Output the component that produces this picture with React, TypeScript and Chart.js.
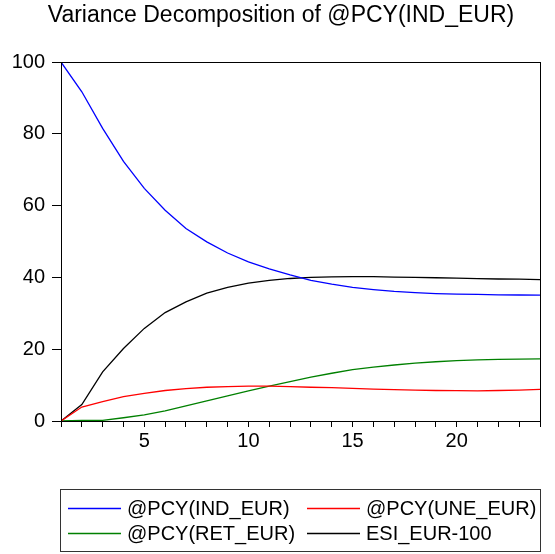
import React, { useEffect, useRef } from "react";
import { Chart, registerables } from "chart.js";

Chart.register(...registerables);

const periods = [1, 2, 3, 4, 5, 6, 7, 8, 9, 10, 11, 12, 13, 14, 15, 16, 17, 18, 19, 20, 21, 22, 23, 24];
const indEur = [100, 91.7, 81.5, 72.3, 64.8, 58.7, 53.6, 49.9, 46.8, 44.3, 42.4, 40.7, 39.2, 38.1, 37.2, 36.6, 36.1, 35.75, 35.5, 35.35, 35.25, 35.15, 35.1, 35.05];
const uneEur = [0, 3.9, 5.4, 6.8, 7.7, 8.5, 9.0, 9.4, 9.6, 9.7, 9.7, 9.6, 9.4, 9.3, 9.1, 8.9, 8.75, 8.6, 8.5, 8.45, 8.4, 8.5, 8.6, 8.8];
const retEur = [0, 0.2, 0.2, 0.9, 1.7, 2.8, 4.2, 5.6, 7.0, 8.4, 9.7, 11.0, 12.2, 13.3, 14.3, 15.0, 15.6, 16.1, 16.5, 16.8, 17.0, 17.15, 17.25, 17.3];
const esiEur = [0, 4.6, 13.7, 20.2, 25.8, 30.2, 33.2, 35.6, 37.2, 38.4, 39.2, 39.7, 40.0, 40.15, 40.2, 40.2, 40.1, 40.0, 39.9, 39.8, 39.65, 39.55, 39.5, 39.4];
const seriesLabels = ["@PCY(IND_EUR)", "@PCY(UNE_EUR)", "@PCY(RET_EUR)", "ESI_EUR-100"];
const seriesColors = ["#0000FF", "#FF0000", "#008000", "#000000"];
const yTicks = [0, 20, 40, 60, 80, 100];
const xLabelEvery = 5;
const titleText = "Variance Decomposition of @PCY(IND_EUR)";

const FONT = "'Liberation Sans', Arial, Helvetica, sans-serif";

const framePlugin = {
  id: "frame",
  afterDatasetsDraw(chart: any) {
    const { ctx, chartArea } = chart;
    ctx.save();
    ctx.strokeStyle = "#000";
    ctx.lineWidth = 1;
    ctx.strokeRect(chartArea.left + 0.5, chartArea.top + 0.5, chartArea.right - chartArea.left, chartArea.bottom - chartArea.top);
    ctx.restore();
  },
};

const titlePlugin = {
  id: "centeredTitle",
  afterDraw(chart: any) {
    const { ctx, chartArea } = chart;
    ctx.save();
    ctx.font = `23px ${FONT}`;
    ctx.fillStyle = "#000";
    ctx.textAlign = "center";
    ctx.textBaseline = "middle";
    ctx.fillText(titleText, (chartArea.left + chartArea.right) / 2 - 19.5, chartArea.top - 46);
    ctx.restore();
  },
};

const boxLegendPlugin = {
  id: "boxLegend",
  afterDraw(chart: any) {
    const { ctx, chartArea } = chart;
    const left = chartArea.left - 1;
    const right = chartArea.right;
    const top = 489;
    const height = 62;
    ctx.save();
    ctx.strokeStyle = "#333";
    ctx.lineWidth = 1;
    ctx.strokeRect(left + 0.5, top + 0.5, right - left, height);
    ctx.font = `20px ${FONT}`;
    ctx.textBaseline = "middle";
    ctx.fillStyle = "#000";
    const ds = chart.data.datasets;
    const colX = [left + 8, left + 247];
    const rowY = [top + 19, top + 44];
    ds.forEach((d: any, i: number) => {
      const cx = colX[i % 2];
      const cy = rowY[Math.floor(i / 2)];
      ctx.strokeStyle = d.borderColor;
      ctx.lineWidth = 1.5;
      ctx.beginPath();
      ctx.moveTo(cx, cy + 0.5);
      ctx.lineTo(cx + 53, cy + 0.5);
      ctx.stroke();
      ctx.fillStyle = "#000";
      ctx.fillText(d.label, cx + 59, cy + 1);
    });
    ctx.restore();
  },
};

export default function App() {
  const canvasRef = useRef<HTMLCanvasElement | null>(null);

  useEffect(() => {
    if (!canvasRef.current) return;
    const series = [indEur, uneEur, retEur, esiEur];
    const chart = new Chart(canvasRef.current, {
      type: "line",
      data: {
        labels: periods,
        datasets: series.map((vals, i) => ({
          label: seriesLabels[i],
          data: vals.map((v, j) => ({ x: periods[j], y: v })),
          borderColor: seriesColors[i],
          backgroundColor: seriesColors[i],
          borderWidth: 1.3,
          pointRadius: 0,
          tension: 0,
          fill: false,
        })),
      },
      options: {
        responsive: false,
        animation: false,
        devicePixelRatio: 1,
        layout: { padding: { left: 0, right: 15, top: 62, bottom: 0 } },
        plugins: {
          legend: { display: false },
          tooltip: { enabled: false },
          title: { display: false },
        },
        scales: {
          x: {
            type: "linear",
            min: 1,
            max: 24,
            afterFit: (s: any) => {
              s.height = 133;
            },
            afterBuildTicks: (s: any) => {
              s.ticks = periods.map((p) => ({ value: p }));
            },
            ticks: {
              autoSkip: false,
              maxRotation: 0,
              color: "#000",
              font: { family: FONT, size: 20 },
              padding: 2,
              callback: (v: any) => (Number(v) % xLabelEvery === 0 ? String(v) : ""),
            },
            grid: {
              drawOnChartArea: false,
              drawTicks: true,
              tickLength: 6,
              color: "#000",
            },
            border: { display: true, color: "#000", width: 1 },
          },
          y: {
            min: 0,
            max: 100,
            afterFit: (s: any) => {
              s.width = 61;
            },
            afterBuildTicks: (s: any) => {
              s.ticks = yTicks.map((t) => ({ value: t }));
            },
            ticks: {
              color: "#000",
              font: { family: FONT, size: 20 },
              padding: 7,
            },
            grid: {
              drawOnChartArea: false,
              drawTicks: true,
              tickLength: 9,
              color: "#000",
            },
            border: { display: true, color: "#000", width: 1 },
          },
        },
      },
      plugins: [framePlugin, titlePlugin, boxLegendPlugin],
    } as any);
    return () => chart.destroy();
  }, []);

  return (
    <div style={{ position: "absolute", left: 0, top: 0, width: 555, height: 554, background: "#fff" }}>
      <canvas ref={canvasRef} width={555} height={554} style={{ width: 555, height: 554, display: "block" }} />
    </div>
  );
}
